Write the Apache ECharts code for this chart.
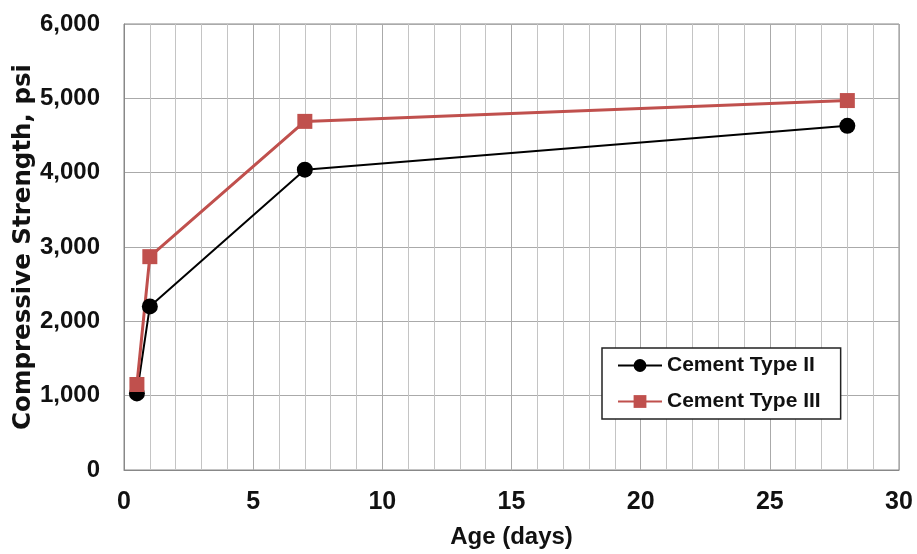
<!DOCTYPE html>
<html>
<head>
<meta charset="utf-8">
<script src="https://cdn.jsdelivr.net/npm/echarts@6/dist/echarts.min.js"></script>
<style>
  html, body { margin: 0; padding: 0; background: #fff; }
  #chart { width: 917px; height: 554px; }
</style>
</head>
<body>
<div id="chart"></div>
<script>
// ages in days
var ages = [0.5, 1, 7, 28]
var typeII = [1030, 2200, 4040, 4630]
var typeIII = [1150, 2870, 4690, 4970]
var seriesNames = ['Cement Type II', 'Cement Type III']

var pairs = function (xs, ys) {
  return xs.map(function (x, i) { return [x, ys[i]] })
}

var dom = echarts.init(document.getElementById('chart'))
var option = {
  animation: false,
  backgroundColor: '#fff',
  grid: {
    left: 124, right: 18, top: 24, bottom: 84,
    outerBoundsMode: 'none', containLabel: false,
    show: true, borderColor: '#888', borderWidth: 1
  },
  legend: {
    orient: 'vertical',
    left: 602, top: 348,
    backgroundColor: '#fff',
    borderColor: '#222', borderWidth: 1.5,
    padding: [7, 20, 7, 15],
    itemGap: 15,
    itemWidth: 44, itemHeight: 16,
    textStyle: { fontFamily: 'Liberation Sans, Arial', fontWeight: 'bold', fontSize: 21, color: '#111' },
    data: seriesNames
  },
  xAxis: {
    type: 'value', min: 0, max: 30, interval: 5,
    name: 'Age (days)', nameLocation: 'middle', nameGap: 55,
    nameTextStyle: { fontFamily: 'Liberation Sans, Arial', fontWeight: 'bold', fontSize: 24, color: '#111' },
    axisLine: { show: true, lineStyle: { color: '#888' } },
    axisTick: { show: false },
    axisLabel: { margin: 20, fontFamily: 'Liberation Sans, Arial', fontWeight: 'bold', fontSize: 25, color: '#111' },
    splitLine: { show: true, lineStyle: { color: '#aaa', width: 1 } },
    minorTick: { show: false, splitNumber: 5 },
    minorSplitLine: { show: true, lineStyle: { color: '#c4c4c4', width: 1 } }
  },
  yAxis: {
    type: 'value', min: 0, max: 6000, interval: 1000,
    name: 'Compressive Strength, psi', nameLocation: 'middle', nameGap: 88,
    nameMoveOverlap: false,
    nameTextStyle: { fontFamily: 'DejaVu Sans, Liberation Sans', fontWeight: 'bold', fontSize: 24.5, color: '#111' },
    axisLine: { show: true, lineStyle: { color: '#888' } },
    axisTick: { show: false },
    axisLabel: {
      margin: 24, fontFamily: 'Liberation Sans, Arial', fontWeight: 'bold', fontSize: 24, color: '#111',
      formatter: function (v) { return v.toLocaleString('en-US') }
    },
    splitLine: { show: true, lineStyle: { color: '#aaa', width: 1 } }
  },
  series: [
    {
      name: seriesNames[0], type: 'line', data: pairs(ages, typeII),
      symbol: 'circle', symbolSize: 16,
      itemStyle: { color: '#000' },
      lineStyle: { color: '#000', width: 2 }
    },
    {
      name: seriesNames[1], type: 'line', data: pairs(ages, typeIII),
      symbol: 'rect', symbolSize: 15,
      itemStyle: { color: '#c0504d' },
      lineStyle: { color: '#c0504d', width: 3 }
    }
  ]
}
dom.setOption(option)
</script>
</body>
</html>
